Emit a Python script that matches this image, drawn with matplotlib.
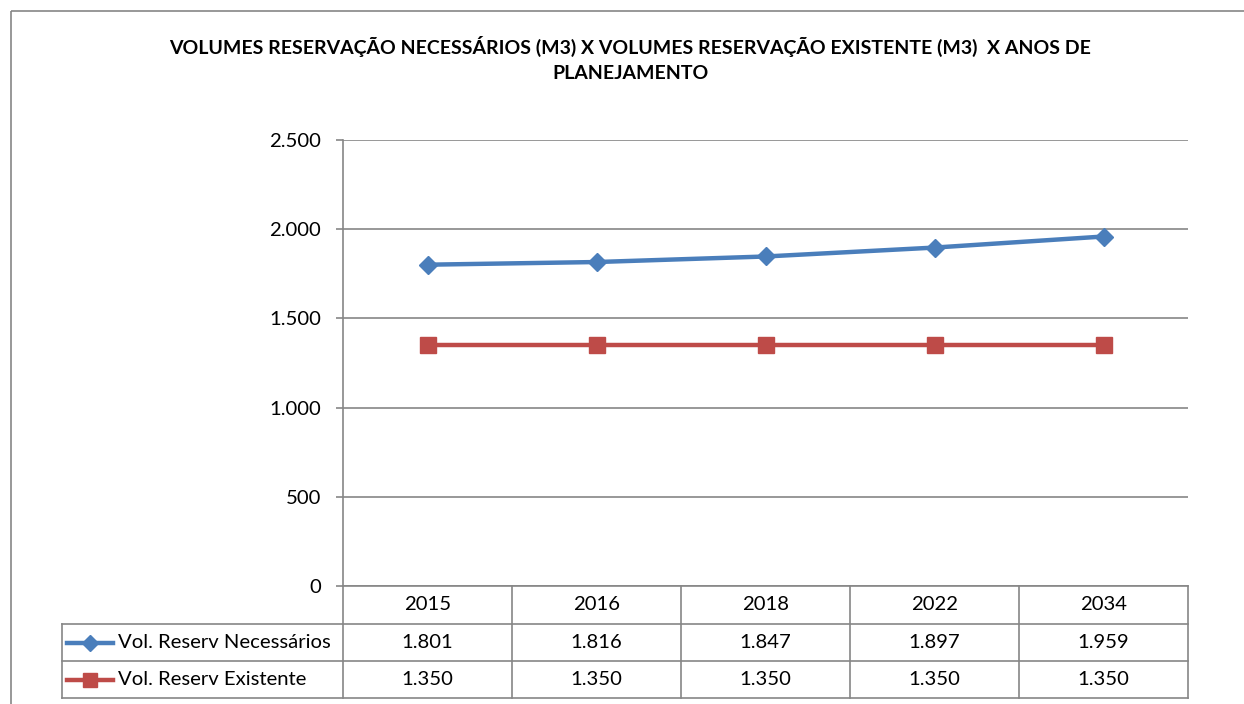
import matplotlib
matplotlib.use("Agg")
import matplotlib.pyplot as plt
from matplotlib.lines import Line2D
from matplotlib.patches import Rectangle

# data
anos = ["2015", "2016", "2018", "2022", "2034"]
vol_necessarios = [1801, 1816, 1847, 1897, 1959]
vol_existente = [1350, 1350, 1350, 1350, 1350]
series_labels = ["Vol. Reserv Necessários", "Vol. Reserv Existente"]
y_ticks = [0, 500, 1000, 1500, 2000, 2500]
titulo = ("VOLUMES RESERVAÇÃO NECESSÁRIOS (M3) X VOLUMES RESERVAÇÃO EXISTENTE (M3)  X ANOS DE\n"
          "PLANEJAMENTO")

BLUE = "#4A7EBB"
RED = "#BE4B48"
GRID = "#868686"
FONT = "Lato"
FS = 14.6
W, H = 1244, 704


def fmt(v):
    return f"{v:,}".replace(",", ".")


fig = plt.figure(figsize=(W / 100, H / 100), dpi=100)

# overlay in pixel coords for border, title, table
ov = fig.add_axes([0, 0, 1, 1])
ov.set_xlim(0, W)
ov.set_ylim(H, 0)
ov.axis("off")
ov.add_patch(Rectangle((10.5, 11), W, H, fill=False, edgecolor=GRID, linewidth=1.2))
ov.text(630, 59, titulo, ha="center", va="center", fontsize=14, fontweight="bold",
        family=FONT, linespacing=1.55)

# plot area
x0, x1, ytop, ybot = 343, 1188, 140, 586
ax = fig.add_axes([x0 / W, 1 - ybot / H, (x1 - x0) / W, (ybot - ytop) / H])
xs = list(range(len(anos)))
ax.plot(xs, vol_necessarios, color=BLUE, linewidth=3.2, marker="D", markersize=9,
        markeredgecolor=BLUE, solid_capstyle="round", zorder=3)
ax.plot(xs, vol_existente, color=RED, linewidth=3.2, marker="s", markersize=11,
        markeredgecolor=RED, zorder=3)
ax.set_xlim(-0.5, len(anos) - 0.5)
ax.set_ylim(0, 2500)
ax.set_yticks(y_ticks)
ax.set_yticklabels([fmt(v) for v in y_ticks], family=FONT, fontsize=FS)
ax.set_xticks([])
ax.yaxis.grid(True, color=GRID, linewidth=1.2)
ax.set_axisbelow(True)
for s in ["top", "right", "bottom"]:
    ax.spines[s].set_visible(False)
ax.spines["left"].set_color(GRID)
ax.spines["left"].set_linewidth(1.2)
ax.tick_params(axis="y", length=5, color=GRID, width=1.2, pad=11)
ax.patch.set_alpha(0)

# data table
row_y = [586, 624, 661, 698]
leg_x = 62
col_w = (x1 - x0) / len(anos)
kw = dict(color=GRID, linewidth=1.2)
ov.plot([x0, x1], [row_y[0], row_y[0]], **kw)
for y in row_y[1:]:
    ov.plot([leg_x, x1], [y, y], **kw)
ov.plot([leg_x, leg_x], [row_y[1], row_y[3]], **kw)
for i in range(len(anos) + 1):
    xv = x0 + i * col_w
    ov.plot([xv, xv], [row_y[0], row_y[3]], **kw)

tkw = dict(ha="center", va="center", family=FONT, fontsize=FS)
for i, a in enumerate(anos):
    cx = x0 + (i + 0.5) * col_w
    ov.text(cx, (row_y[0] + row_y[1]) / 2, a, **tkw)
    ov.text(cx, (row_y[1] + row_y[2]) / 2, fmt(vol_necessarios[i]), **tkw)
    ov.text(cx, (row_y[2] + row_y[3]) / 2, fmt(vol_existente[i]), **tkw)

for r, (lab, col, mk, ms) in enumerate(zip(series_labels, [BLUE, RED], ["D", "s"], [8, 10])):
    cy = (row_y[r + 1] + row_y[r + 2]) / 2
    ov.add_line(Line2D([67, 113], [cy, cy], color=col, linewidth=3.2))
    ov.add_line(Line2D([90], [cy], color=col, marker=mk, markersize=ms, markeredgecolor=col))
    ov.text(118, cy, lab, ha="left", va="center", family=FONT, fontsize=FS)

fig.savefig("out.png", dpi=100)
